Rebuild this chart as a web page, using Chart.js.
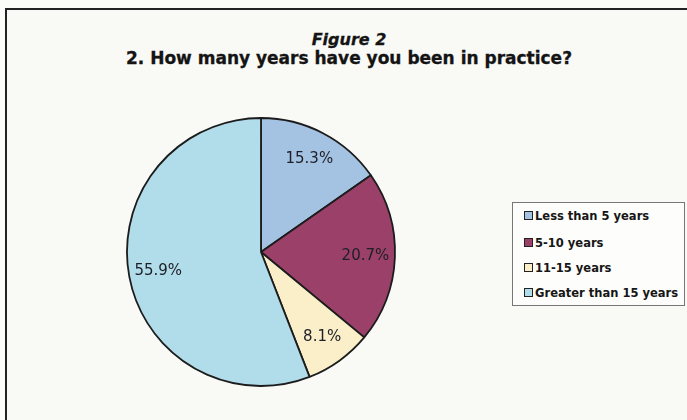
<!DOCTYPE html>
<html>
<head>
<meta charset="utf-8">
<script src="https://cdn.jsdelivr.net/npm/chart.js@4.4.1/dist/chart.umd.min.js"></script>
<style>
  html, body { margin: 0; padding: 0; background: #fbfbf8; }
  #frame {
    position: absolute; left: 5px; top: 8px; width: 700px; height: 430px;
    border-left: 2px solid #222; border-top: 2px solid #222;
    background: #f9f9f6;
  }
  #title {
    position: absolute; left: 0; top: 30px; width: 698px; text-align: center;
    font-family: "DejaVu Sans", sans-serif; font-weight: bold; font-size: 17px;
    color: #141414; line-height: 18px; -webkit-text-stroke: 0.3px #141414;
  }
  #title .fig { font-style: italic; font-size: 16px; }
  #wrap { position: absolute; left: 121px; top: 112px; width: 280px; height: 280px; }
  #legend {
    position: absolute; left: 512px; top: 202px; width: 173px; height: 104px;
    border: 1px solid #777; background: #fdfdfb; box-sizing: border-box;
    font-family: "DejaVu Sans Condensed", "DejaVu Sans", sans-serif; font-weight: bold;
    font-size: 12.8px; color: #161616;
  }
  .item { position: absolute; left: 11px; height: 14px; line-height: 14px; white-space: nowrap; }
  .box {
    display: inline-block; width: 7px; height: 7px; border: 1px solid #222;
    margin-right: 2px; vertical-align: 0px;
  }
</style>
</head>
<body>
<div id="frame"></div>
<div id="title"><span class="fig">Figure 2</span><br>2. How many years have you been in practice?</div>
<div id="wrap"><canvas id="myChart" width="280" height="280"></canvas></div>
<div id="legend"></div>
<script>
  // setup
  const categories = ['Less than 5 years', '5-10 years', '11-15 years', 'Greater than 15 years'];
  const percents = [15.3, 20.7, 8.1, 55.9];
  const sliceColors = ['#a4c3e3', '#9b4169', '#fbefc9', '#b1dcea'];

  // value labels inside each slice
  const sliceLabels = {
    id: 'sliceLabels',
    afterDatasetsDraw(chart) {
      const ctx = chart.ctx;
      const meta = chart.getDatasetMeta(0);
      ctx.save();
      ctx.font = '15px "DejaVu Sans", sans-serif';
      ctx.fillStyle = '#1e1e26';
      ctx.textAlign = 'center';
      ctx.textBaseline = 'middle';
      meta.data.forEach((arc, i) => {
        const p = arc.getProps(['x', 'y', 'startAngle', 'endAngle', 'outerRadius'], true);
        const mid = (p.startAngle + p.endAngle) / 2;
        const r = p.outerRadius * 0.78;
        ctx.fillText(percents[i].toFixed(1) + '%', p.x + Math.cos(mid) * r, p.y + Math.sin(mid) * r);
      });
      ctx.restore();
    }
  };

  // config
  const config = {
    type: 'pie',
    data: {
      labels: categories,
      datasets: [{
        data: percents,
        backgroundColor: sliceColors,
        borderColor: '#1c1c1c',
        borderWidth: 1.8,
        hoverOffset: 0
      }]
    },
    options: {
      responsive: false,
      animation: false,
      radius: 134,
      layout: { padding: 6 },
      plugins: {
        legend: { display: false },
        tooltip: { enabled: false }
      }
    },
    plugins: [sliceLabels]
  };

  // render init block
  const myChart = new Chart(document.getElementById('myChart'), config);

  // legend box
  const legend = document.getElementById('legend');
  const rowTops = [6, 33, 58, 83];
  categories.forEach((name, i) => {
    const row = document.createElement('div');
    row.className = 'item';
    row.style.top = rowTops[i] + 'px';
    row.innerHTML = '<span class="box" style="background:' + sliceColors[i] + '"></span>' + name;
    legend.appendChild(row);
  });
</script>
</body>
</html>
